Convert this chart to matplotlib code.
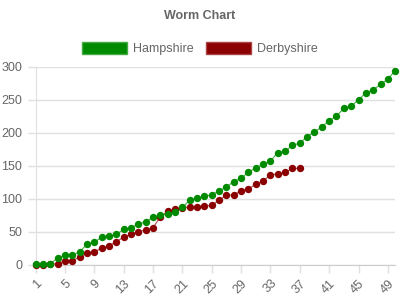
import matplotlib.pyplot as plt
import matplotlib.patches as mpatches
import numpy as np

plt.rcParams['font.family'] = ['Liberation Sans', 'DejaVu Sans']

overs = list(range(1, 51))
hampshire = [1, 1, 2, 10, 15, 15, 20, 31, 34, 42, 43, 46, 54, 56, 62, 65, 72, 75, 77, 80,
             87, 98, 101, 104, 106, 112, 118, 126, 131, 140, 147, 152, 157, 170, 172, 181, 184, 194, 201, 209,
             218, 225, 237, 240, 250, 260, 265, 273, 281, 294]
derbyshire = [0, 0, 1, 2, 6, 6, 12, 18, 20, 25, 29, 35, 42, 46, 50, 53, 56, 73, 81, 85,
              86, 88, 88, 89, 90, 98, 105, 106, 112, 115, 122, 127, 136, 138, 140, 146, 146]
green = '#008a00'
red = '#8b0000'
grid = '#e0e0e0'
txt = '#666666'

fig = plt.figure(figsize=(4, 3), dpi=100)
ax = fig.add_axes([0.089, 0.117, 0.899, 0.661])

ax.plot(overs[:len(derbyshire)], derbyshire, color=red, lw=0.8, alpha=0.7, clip_on=False, zorder=3)
ax.plot(overs[:len(derbyshire)], derbyshire, 'o', color=red, ms=5.3, mew=0, clip_on=False, zorder=4)
ax.plot(overs, hampshire, color=green, lw=0.8, alpha=0.7, clip_on=False, zorder=5)
ax.plot(overs, hampshire, 'o', color=green, ms=5.3, mew=0, clip_on=False, zorder=6)

ax.set_xlim(1, 50)
ax.set_ylim(0, 300)
ax.set_yticks(np.arange(0, 301, 50))
ax.set_xticks(overs[::4])
ax.set_xticklabels([str(o) for o in overs[::4]], rotation=45, ha='right', rotation_mode='anchor')
ax.grid(axis='y', color=grid, lw=1)
ax.set_axisbelow(True)
for s in ['top', 'right']:
    ax.spines[s].set_visible(False)
ax.spines['left'].set_color(grid)
ax.spines['bottom'].set_color('#cccccc')
ax.tick_params(colors=grid, labelcolor=txt, labelsize=9, length=6, width=1)
ax.tick_params(axis='x', pad=3)

fig.text(0.5, 0.947, 'Worm Chart', ha='center', va='center', fontsize=9, fontweight='bold', color=txt)
handles = [mpatches.Patch(facecolor=green, edgecolor='#44aa44', label='Hampshire'),
           mpatches.Patch(facecolor=red, edgecolor='#aa4444', label='Derbyshire')]
fig.legend(handles=handles, loc='center', bbox_to_anchor=(0.5, 0.837), ncol=2, frameon=False,
           fontsize=9, handlelength=3.6, handleheight=1.0, handletextpad=0.5, columnspacing=1.0,
           labelcolor=txt)

fig.savefig('out.png', dpi=100)
